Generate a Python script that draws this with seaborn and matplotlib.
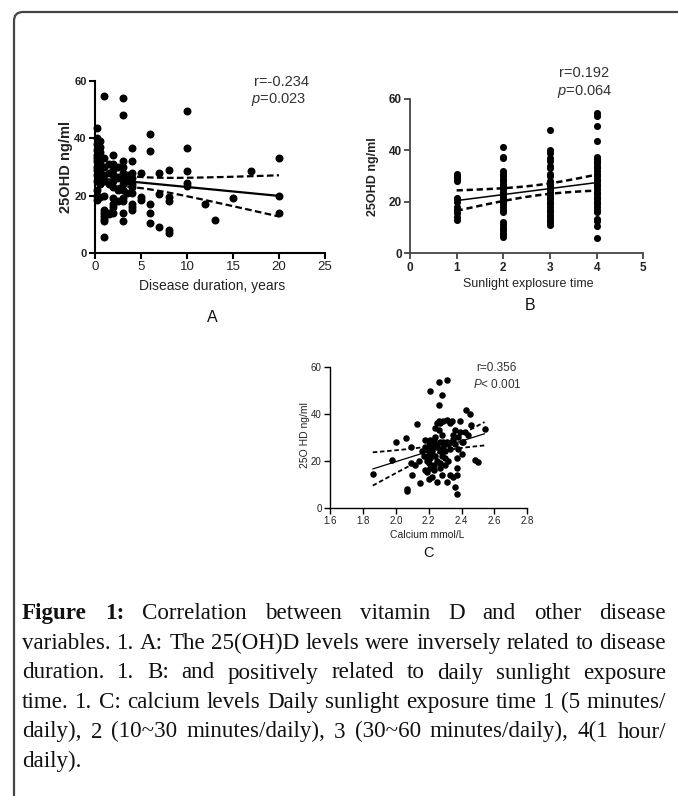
import numpy as np
import matplotlib
matplotlib.use("Agg")
import matplotlib.pyplot as plt
import seaborn as sns
from matplotlib.path import Path
from matplotlib.patches import PathPatch
from matplotlib.transforms import IdentityTransform

# ---------------- data ----------------
# Panel A: disease duration (years) vs 25OHD (ng/ml)
dur_years = ([0.25] * 14 + [0.5] * 8 + [1] * 12 + [1.5] * 5 + [2] * 10 + [2.5] * 4 +
             [3] * 12 + [3.5] * 3 + [4] * 10 + [5] * 3 + [6] * 5 + [7] * 3 + [8] * 5 +
             [10] * 5 + [12, 13, 15, 17, 20, 20, 20])
vitd_a = [43.5, 40, 38, 36, 34, 33, 32, 30, 29, 27, 25, 22, 20, 18.5,
          39, 37, 35, 31, 28, 26, 24, 19.5,
          54.5, 33, 30, 27, 25, 20, 15, 14, 13, 12, 11, 5.7,
          31, 28, 24, 14, 13.5,
          34, 31, 29, 27, 25, 23, 19, 17, 16, 14,
          30, 26, 22, 18,
          54, 48, 32, 30, 28, 26, 24, 22, 19, 18, 14, 11,
          27, 25, 21,
          36.5, 32, 28, 26, 24, 23, 21, 17, 16, 15,
          28, 19.5, 18.5,
          41.5, 35.5, 17, 14, 10.5,
          28, 20.5, 9,
          29, 19.5, 18, 8, 7,
          49.5, 36.5, 28.5, 24.5, 23.5,
          17, 11.5, 19, 28.5, 33, 20, 14]

# Panel B: sunlight exposure category vs 25OHD
sun_cat = [1] * 13 + [2] * 28 + [3] * 28 + [4] * 31
vitd_b = [31, 30, 29.5, 29, 28, 21.5, 21, 20, 18, 17, 15.5, 14, 13,
          41.5, 37.5, 37, 32, 31, 30, 29, 28, 27, 26, 25, 24, 23, 22, 21, 20.5, 20, 19, 18, 17,
          16, 12, 11, 10, 9, 8, 7, 6.5,
          48, 40, 39, 37, 36, 34, 33, 31, 30, 28, 27, 26, 25.5, 25, 24, 23, 22, 21, 20, 19,
          18, 17, 16, 15, 14, 13, 12, 11,
          54.5, 53.5, 49.5, 43.5, 37.5, 36.5, 36, 35, 34, 33, 32, 31, 30, 29, 28, 27, 26, 25,
          24, 23, 22, 21, 20, 19, 18, 17, 16, 13.5, 12.5, 10.5, 5.8]

# Panel C: calcium (mmol/L) vs 25OHD
calcium = [1.86, 1.98, 2.00, 2.06, 2.07, 2.07, 2.09, 2.09, 2.10, 2.13, 2.12, 2.15, 2.14,
           2.16, 2.17, 2.18, 2.18, 2.18, 2.19, 2.19, 2.20, 2.20, 2.20, 2.20, 2.21, 2.21, 2.21,
           2.21, 2.21, 2.22, 2.22, 2.22, 2.23, 2.23, 2.23, 2.24, 2.24, 2.24, 2.25, 2.25, 2.25,
           2.25, 2.26, 2.26, 2.26, 2.26, 2.27, 2.27, 2.27, 2.27, 2.28, 2.28, 2.28, 2.28, 2.29,
           2.29, 2.29, 2.30, 2.30, 2.31, 2.31, 2.31, 2.31, 2.32, 2.32, 2.33, 2.33, 2.34, 2.34,
           2.35, 2.35, 2.35, 2.36, 2.36, 2.36, 2.37, 2.37, 2.37, 2.37, 2.38, 2.38, 2.39, 2.39,
           2.40, 2.40, 2.41, 2.42, 2.43, 2.45, 2.44, 2.46, 2.48, 2.50, 2.54, 2.30, 2.24, 2.19,
           2.33, 2.27]
vitd_c = [14.5, 20.5, 28, 29.5, 8, 7, 26, 19, 14, 35.8, 18, 10.5, 20,
          24, 22, 29, 26, 16, 15, 25, 28, 23, 19, 12, 49.5, 29, 27,
          21, 17, 13, 25, 24, 29, 18, 16, 22, 27, 30, 11, 20, 26,
          36, 53.5, 43.5, 33, 37, 28, 24, 19, 17, 48, 31, 22, 14, 37,
          28, 26, 21, 18, 54.5, 11, 37.5, 28, 27, 20, 25, 14, 28, 37,
          31, 29, 13, 9, 27, 33, 6, 21, 17, 14, 30, 25, 37, 32,
          28, 23, 28, 32, 41.5, 40, 31, 35, 20.5, 19.5, 33.5, 24, 34, 20,
          36, 36]

x_ticks_a = [0, 5, 10, 15, 20, 25]
x_ticks_b = [0, 1, 2, 3, 4, 5]
x_ticks_c = [1.6, 1.8, 2.0, 2.2, 2.4, 2.6, 2.8]
y_ticks = [0, 20, 40, 60]

caption_lines = [
    "Figure 1: Correlation between vitamin D and other disease",
    "variables. 1. A: The 25(OH)D levels were inversely related to disease",
    "duration. 1. B: and positively related to daily sunlight exposure",
    "time. 1. C: calcium levels Daily sunlight exposure time 1 (5 minutes/",
    "daily), 2 (10~30 minutes/daily), 3 (30~60 minutes/daily), 4(1 hour/",
    "daily).",
]

# ---------------- setup ----------------
W, H = 678, 796
sns.set_theme(style="ticks")
plt.rcParams["font.family"] = ["Liberation Sans", "DejaVu Sans"]
plt.rcParams["mathtext.fontset"] = "custom"
plt.rcParams["mathtext.it"] = "Liberation Sans:italic"
plt.rcParams["mathtext.rm"] = "Liberation Sans"

fig = plt.figure(figsize=(W / 100, H / 100), dpi=100)
fig.patch.set_facecolor("white")


def ax_px(left, top, right, bottom):
    return fig.add_axes([left / W, 1 - bottom / H, (right - left) / W, (bottom - top) / H])


def ftxt(x, y, s, **kw):
    return fig.text(x / W, 1 - y / H, s, **kw)


def ci_lines(x, y, xs, t=1.984):
    x = np.asarray(x, float)
    y = np.asarray(y, float)
    n = len(x)
    b1, b0 = np.polyfit(x, y, 1)
    yhat = b0 + b1 * xs
    resid = y - (b0 + b1 * x)
    s = np.sqrt(np.sum(resid ** 2) / (n - 2))
    se = s * np.sqrt(1 / n + (xs - x.mean()) ** 2 / np.sum((x - x.mean()) ** 2))
    return yhat - t * se, yhat + t * se


def panel(ax, x, y, xticks, xlim, ms, lw_line, lw_dash, lw_spine, spine_col,
          xfs, yfs, xweight, yweight, dash):
    sns.regplot(x=np.asarray(x, float), y=np.asarray(y, float), ax=ax, ci=None, color="black",
                scatter_kws=dict(s=ms, linewidths=0, clip_on=False, alpha=1, zorder=3),
                line_kws=dict(lw=lw_line, color="black", zorder=4))
    xs = np.linspace(min(x), max(x), 100)
    lo, hi = ci_lines(x, y, xs)
    ax.plot(xs, lo, color="black", lw=lw_dash, ls=(0, dash), zorder=4)
    ax.plot(xs, hi, color="black", lw=lw_dash, ls=(0, dash), zorder=4)
    ax.set_xlim(*xlim)
    ax.set_ylim(0, 60)
    ax.set_xticks(xticks)
    ax.set_yticks(y_ticks)
    ax.set_xlabel("")
    ax.set_ylabel("")
    sns.despine(ax=ax)
    for s in ["left", "bottom"]:
        ax.spines[s].set_linewidth(lw_spine)
        ax.spines[s].set_color(spine_col)
    ax.tick_params(direction="out", length=4, width=lw_spine, color=spine_col, pad=2)
    ax.tick_params(axis="x", labelsize=xfs, labelcolor="#222")
    ax.tick_params(axis="y", labelsize=yfs, labelcolor="#222")
    for lab in ax.get_xticklabels():
        lab.set_fontweight(xweight)
    for lab in ax.get_yticklabels():
        lab.set_fontweight(yweight)
    ax.patch.set_alpha(0)


# ---------------- panel A ----------------
axA = ax_px(95, 80.7, 325, 253)
panel(axA, dur_years, vitd_a, x_ticks_a, (0, 25), 33, 1.6, 1.6, 1.5, "black",
      9.5, 8, "normal", "bold", (3, 1.5))
axA.set_xticklabels([str(v) for v in x_ticks_a])
ftxt(66, 167, "25OHD ng/ml", rotation=90, fontsize=10.5, fontweight="bold", ha="center", va="center", color="#222")
ftxt(212, 286, "Disease duration, years", fontsize=10, ha="center", va="center", color="#222")
ftxt(212, 317, "A", fontsize=11.5, ha="center", va="center", color="#111")
ftxt(254, 82, "r=-0.234", fontsize=10.5, ha="left", va="center", color="#333")
ftxt(251, 99, r"$\mathit{p}$=0.023", fontsize=10.5, ha="left", va="center", color="#333")

# ---------------- panel B ----------------
axB = ax_px(410, 99, 643.3, 253.3)
panel(axB, sun_cat, vitd_b, x_ticks_b, (0, 5), 26, 1.1, 1.8, 1.3, "#444",
      8.5, 8.5, "bold", "bold", (2.5, 1.5))
ftxt(373, 177, "25OHD ng/ml", rotation=90, fontsize=9, fontweight="bold", ha="center", va="center", color="#222")
ftxt(528, 284, "Sunlight explosure time", fontsize=9, ha="center", va="center", color="#222")
ftxt(530, 305, "B", fontsize=11.5, ha="center", va="center", color="#111")
ftxt(559, 73, "r=0.192", fontsize=10.5, ha="left", va="center", color="#333")
ftxt(557, 91, r"$\mathit{p}$=0.064", fontsize=10.5, ha="left", va="center", color="#333")

# ---------------- panel C ----------------
axC = ax_px(330, 366.7, 527.3, 507.7)
panel(axC, calcium, vitd_c, x_ticks_c, (1.6, 2.8), 22, 0.9, 1.3, 1.0, "black",
      7, 7, "normal", "normal", (2.5, 1.5))
axC.set_xticklabels([f"{v:.1f}" for v in x_ticks_c])
ftxt(305, 435, "25O HD ng/ml", rotation=90, fontsize=7.5, ha="center", va="center", color="#222")
ftxt(427, 535, "Calcium mmol/L", fontsize=7.5, ha="center", va="center", color="#222")
ftxt(429, 553, "C", fontsize=10.5, ha="center", va="center", color="#111")
ftxt(476, 368, "r=0.356", fontsize=8.5, ha="left", va="center", color="#333")
ftxt(473, 384, r"$\mathit{P}$< 0.001", fontsize=8.5, ha="left", va="center", color="#333")

# ---------------- caption (justified) ----------------
renderer = fig.canvas.get_renderer()
L, R = 22, 666
baselines = [619, 649, 678.5, 708, 737.5, 767]

# choose size so that the densest line fits with near-normal word spacing
probe_fs = 16
probe = ftxt(0, 0, caption_lines[1], fontsize=probe_fs, family="Liberation Serif")
natural = probe.get_window_extent(renderer).width
probe.remove()
fs = min(17.5, probe_fs * (R - L - 4) / natural)

for i, line in enumerate(caption_lines):
    words = line.split(" ")
    objs = []
    for j, w in enumerate(words):
        bold = (i == 0 and j < 2)
        t = ftxt(0, baselines[i], w, fontsize=fs, family="Liberation Serif",
                 fontweight="bold" if bold else "normal", ha="left", va="baseline", color="#111")
        objs.append(t)
    widths = [t.get_window_extent(renderer).width for t in objs]
    if i < len(caption_lines) - 1:
        gap = (R - L - sum(widths)) / (len(words) - 1)
    else:
        gap = fs * 100 / 72 * 0.25
    xpos = L
    for t, wd in zip(objs, widths):
        t.set_x(xpos / W)
        xpos += wd + gap

# ---------------- border ----------------
r = 9
verts = [(14, -10), (14, H - 12 - r), (14, H - 12), (14 + r, H - 12), (W + 10, H - 12)]
codes = [Path.MOVETO, Path.LINETO, Path.CURVE3, Path.CURVE3, Path.LINETO]
fig.add_artist(PathPatch(Path(verts, codes), transform=IdentityTransform(), fill=False,
                         lw=1.6, edgecolor="#444"))

fig.savefig("out.png", dpi=100)
